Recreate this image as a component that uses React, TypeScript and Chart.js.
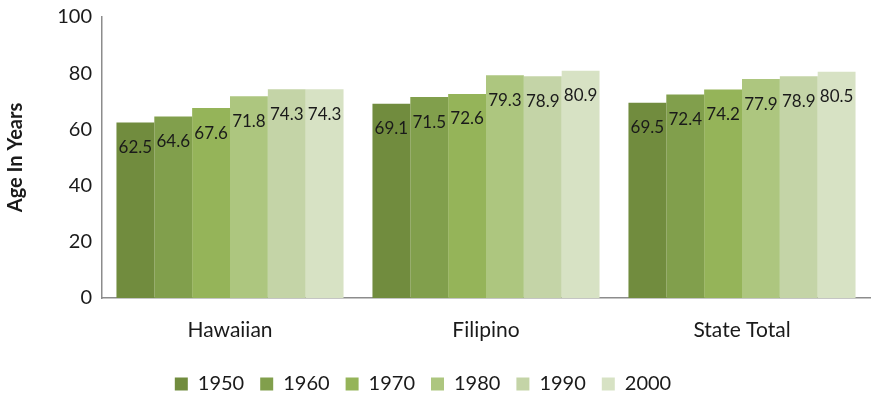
import React, { useEffect, useRef } from "react";
import { Chart, registerables } from "chart.js";

Chart.register(...registerables);

const categories = ["Hawaiian", "Filipino", "State Total"];
const years = ["1950", "1960", "1970", "1980", "1990", "2000"];
const values1950 = [62.5, 69.1, 69.5];
const values1960 = [64.6, 71.5, 72.4];
const values1970 = [67.6, 72.6, 74.2];
const values1980 = [71.8, 79.3, 77.9];
const values1990 = [74.3, 78.9, 78.9];
const values2000 = [74.3, 80.9, 80.5];
const seriesValues = [values1950, values1960, values1970, values1980, values1990, values2000];
const colors = ["#718C3E", "#819F4C", "#95B459", "#ADC67F", "#C4D4A7", "#D7E2C4"];
const yTicks = [0, 20, 40, 60, 80, 100];

const FONT = "Lato, 'Open Sans', sans-serif";

const labelPlugin = {
  id: "insideEndLabels",
  afterDatasetsDraw(chart: any) {
    const ctx = chart.ctx;
    ctx.save();
    ctx.font = `17px ${FONT}`;
    ctx.fillStyle = "#1a1a1a";
    ctx.textAlign = "center";
    ctx.textBaseline = "middle";
    chart.data.datasets.forEach((ds: any, di: number) => {
      const meta = chart.getDatasetMeta(di);
      meta.data.forEach((bar: any, i: number) => {
        const v = ds.data[i];
        ctx.fillText(v.toFixed(1), bar.x, bar.y + 25);
      });
    });
    ctx.restore();
  },
};

const legendShiftPlugin = {
  id: "legendShift",
  afterLayout(chart: any) {
    if (chart.legend) {
      chart.legend.left -= 12;
      chart.legend.right -= 12;
    }
  },
};

export default function App() {
  const ref = useRef<HTMLCanvasElement>(null);
  useEffect(() => {
    if (!ref.current) return;
    const chart = new Chart(ref.current, {
      type: "bar",
      data: {
        labels: categories,
        datasets: years.map((y, i) => ({
          label: y,
          data: seriesValues[i],
          backgroundColor: colors[i],
          borderWidth: 0,
          barPercentage: 1,
          categoryPercentage: 0.887,
        })),
      },
      options: {
        animation: false,
        responsive: false,
        maintainAspectRatio: false,
        layout: { padding: { top: 17, right: 2, left: 0, bottom: -4 } },
        plugins: {
          legend: {
            position: "bottom",
            labels: {
              boxWidth: 13,
              boxHeight: 13,
              padding: 16,
              color: "#1a1a1a",
              font: { family: FONT, size: 20 },
            },
          },
          tooltip: { enabled: false },
        },
        scales: {
          x: {
            afterFit: (s: any) => {
              s.height = 60;
            },
            grid: { display: false, drawTicks: false },
            border: { display: true, color: "#8c8c8c", width: 1.5 },
            ticks: {
              color: "#1a1a1a",
              font: { family: FONT, size: 21 },
              padding: 20,
            },
          },
          y: {
            min: 0,
            max: 100,
            afterBuildTicks: (s: any) => {
              s.ticks = yTicks.map((v) => ({ value: v }));
            },
            afterFit: (s: any) => {
              s.width = 102;
              s.paddingTop = 0;
              s.paddingBottom = 0;
            },
            grid: { display: false, drawTicks: false },
            border: { display: true, color: "#8c8c8c", width: 1.5 },
            ticks: {
              color: "#1a1a1a",
              font: { family: FONT, size: 20 },
              padding: 10,
            },
            title: {
              display: true,
              text: "Age In Years",
              color: "#1a1a1a",
              font: { family: FONT, size: 20, weight: "bold" },
              padding: { top: 4, bottom: 4 },
            },
          },
        },
      },
      plugins: [labelPlugin, legendShiftPlugin],
    });
    return () => chart.destroy();
  }, []);
  return (
    <div style={{ position: "absolute", left: 0, top: 0, width: 872, height: 400, background: "#fff" }}>
      <canvas ref={ref} width={872} height={400} style={{ width: 872, height: 400 }} />
    </div>
  );
}
